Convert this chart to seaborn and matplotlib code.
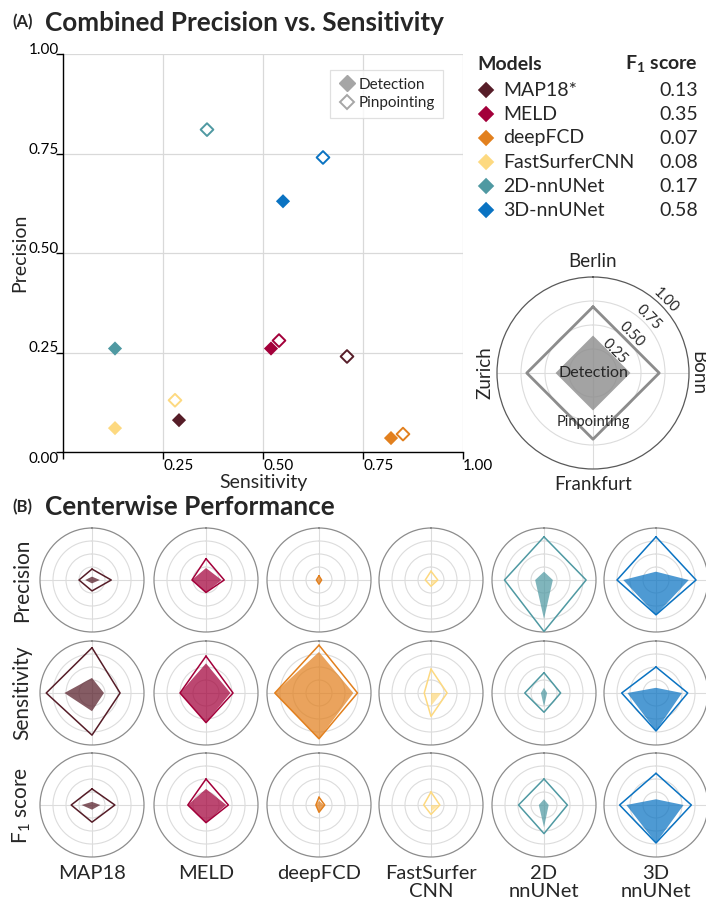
import numpy as np
import pandas as pd
import matplotlib
matplotlib.use('Agg')
import matplotlib.pyplot as plt
from matplotlib.lines import Line2D
import seaborn as sns

# ---- data -------------------------------------------------------------
models = ['MAP18*', 'MELD', 'deepFCD', 'FastSurferCNN', '2D-nnUNet', '3D-nnUNet']
short_names = ['MAP18', 'MELD', 'deepFCD', 'FastSurfer\nCNN', '2D\nnnUNet', '3D\nnnUNet']
colors = ['#561d28', '#a3003a', '#e2801e', '#fdd980', '#4f99a2', '#0a73c2']
f1_scores = ['0.13', '0.35', '0.07', '0.08', '0.17', '0.58']

det_sens = [0.29, 0.52, 0.82, 0.13, 0.13, 0.55]
det_prec = [0.08, 0.26, 0.035, 0.06, 0.26, 0.63]
pin_sens = [0.71, 0.54, 0.85, 0.28, 0.36, 0.65]
pin_prec = [0.24, 0.28, 0.045, 0.13, 0.81, 0.74]

centers = ['Berlin', 'Bonn', 'Frankfurt', 'Zurich']
metrics = ['Precision', 'Sensitivity', 'F$_1$ score']

# per model: [Berlin, Bonn, Frankfurt, Zurich]
prec_det = [[0.065, 0.15, 0.065, 0.13], [0.23, 0.30, 0.24, 0.27], [0.05, 0.04, 0.06, 0.04],
            [0.0, 0.12, 0.09, 0.0], [0.16, 0.17, 0.75, 0.17], [0.16, 0.63, 0.67, 0.63]]
prec_pin = [[0.21, 0.37, 0.21, 0.25], [0.41, 0.35, 0.24, 0.27], [0.08, 0.05, 0.08, 0.05],
            [0.17, 0.13, 0.12, 0.11], [0.83, 0.81, 0.99, 0.76], [0.83, 0.77, 0.67, 0.75]]
sens_det = [[0.29, 0.23, 0.35, 0.53], [0.57, 0.47, 0.57, 0.50], [0.79, 0.66, 0.88, 0.85],
            [0.0, 0.20, 0.25, 0.0], [0.10, 0.06, 0.26, 0.06], [0.10, 0.50, 0.73, 0.55]]
sens_pin = [[0.87, 0.54, 0.81, 0.88], [0.71, 0.52, 0.57, 0.50], [0.92, 0.74, 0.88, 0.85],
            [0.46, 0.31, 0.45, 0.13], [0.39, 0.32, 0.37, 0.37], [0.50, 0.61, 0.73, 0.66]]
f1_det = [[0.06, 0.16, 0.09, 0.20], [0.31, 0.39, 0.34, 0.35], [0.08, 0.10, 0.13, 0.06],
          [0.0, 0.15, 0.13, 0.0], [0.11, 0.09, 0.43, 0.10], [0.11, 0.53, 0.73, 0.57]]
f1_pin = [[0.31, 0.44, 0.33, 0.40], [0.50, 0.43, 0.34, 0.35], [0.15, 0.11, 0.14, 0.06],
          [0.25, 0.17, 0.18, 0.14], [0.50, 0.45, 0.55, 0.49], [0.61, 0.68, 0.73, 0.70]]

legend_det = [0.39, 0.39, 0.39, 0.39]
legend_pin = [0.69, 0.69, 0.69, 0.69]

# ---- style ------------------------------------------------------------
sns.set_style('white')
plt.rcParams['font.family'] = ['Lato', 'DejaVu Sans']
plt.rcParams['mathtext.fontset'] = 'custom'
plt.rcParams['mathtext.rm'] = 'Lato'
plt.rcParams['mathtext.bf'] = 'Lato:bold'

W, H = 706, 902
fig = plt.figure(figsize=(W / 100, H / 100), dpi=100)


def px_box(x0, y0, x1, y1):
    '''pixel box (top-left origin) -> figure fraction rect'''
    return [x0 / W, 1 - y1 / H, (x1 - x0) / W, (y1 - y0) / H]


# ---- (A) scatter ------------------------------------------------------
fig.text(12 / W, 1 - 27 / H, '(A)', fontsize=12, weight='bold', va='baseline')
fig.text(45 / W, 1 - 31 / H, 'Combined Precision vs. Sensitivity', fontsize=18.8, weight='bold', va='baseline')

ax = fig.add_axes(px_box(63, 54, 463, 452))
df_det = pd.DataFrame({'Model': models, 'Sensitivity': det_sens, 'Precision': det_prec})
df_pin = pd.DataFrame({'Model': models, 'Sensitivity': pin_sens, 'Precision': pin_prec})
palette = dict(zip(models, colors))

sns.scatterplot(data=df_det, x='Sensitivity', y='Precision', hue='Model', palette=palette,
                marker='D', s=52, linewidth=0, legend=False, ax=ax, zorder=3)
sns.scatterplot(data=df_pin, x='Sensitivity', y='Precision', hue='Model', palette=palette,
                marker='D', s=42, linewidth=1.4, legend=False, ax=ax, zorder=4)
pin_coll = ax.collections[-1]
pin_coll.set_edgecolors(pin_coll.get_facecolors())
pin_coll.set_facecolors('white')

ax.set_xlim(0, 1)
ax.set_ylim(0, 1)
ticks = [0, 0.25, 0.5, 0.75, 1.0]
ax.set_xticks(ticks)
ax.set_yticks(ticks)
ax.set_xticklabels(['', '0.25', '0.50', '0.75', '1.00'])
ax.set_yticklabels(['0.00', '0.25', '0.50', '0.75', '1.00'])
ax.grid(True, color='#d9d9d9', lw=0.9)
ax.set_axisbelow(True)
for s in ['top', 'right']:
    ax.spines[s].set_visible(False)
for s in ['left', 'bottom']:
    ax.spines[s].set_color('black')
    ax.spines[s].set_linewidth(1.0)
ax.tick_params(axis='both', bottom=True, left=True, length=5, width=1, color='black',
               labelsize=11, labelcolor='black')
ax.tick_params(axis='x', pad=0)
ax.tick_params(axis='y', pad=-2)
for lab in ax.get_xticklabels():
    lab.set_ha('left')
ylabs = ax.get_yticklabels()
for lab in ylabs[1:]:
    lab.set_va('baseline')
ylabs[0].set_va('top')
ax.set_xlabel('Sensitivity', fontsize=14)
ax.set_ylabel('Precision', fontsize=14)
ax.xaxis.set_label_coords(0.5, -0.056)
ax.yaxis.set_label_coords(-0.088, 0.5)

handles = [Line2D([], [], marker='D', ls='', color='#a6a6a6', ms=8, label='Detection'),
           Line2D([], [], marker='D', ls='', mfc='white', mec='#a6a6a6', mew=1.4, ms=7.5, label='Pinpointing')]
leg = ax.legend(handles=handles, loc='upper right', bbox_to_anchor=(0.95, 0.96), fontsize=11,
                frameon=True, fancybox=False, edgecolor='#d9d9d9', handletextpad=0.2,
                borderpad=0.5, labelspacing=0.3, handlelength=1.2, borderaxespad=0)
leg.get_frame().set_linewidth(0.9)

# ---- models / F1 legend -----------------------------------------------
lax = fig.add_axes(px_box(470, 54, 706, 222))
rows = np.arange(len(models))
sns.scatterplot(x=np.full(len(models), 0.068), y=rows, hue=models, palette=palette,
                marker='D', s=70, linewidth=0, legend=False, ax=lax)
lax.set_xlim(0, 1)
lax.set_ylim(5.5, -1.5)
lax.axis('off')
lax.text(0.03, -1.05, 'Models', fontsize=14, weight='bold', va='center', ha='left')
lax.text(0.966, -1.05, r'F$_\mathbf{1}$ score', fontsize=14, weight='bold', va='center', ha='right')
for i, (m, f) in enumerate(zip(models, f1_scores)):
    lax.text(0.14, i, m, fontsize=14, va='center', ha='left')
    lax.text(0.966, i, f, fontsize=14, va='center', ha='right')

# ---- radar helpers ----------------------------------------------------
angles = np.deg2rad([0, 90, 180, 270])
closed = np.append(angles, angles[0])


def style_polar(pax, spine_color='#8c8c8c'):
    pax.set_theta_zero_location('N')
    pax.set_theta_direction(-1)
    pax.set_ylim(0, 1)
    pax.set_rticks([0.25, 0.5, 0.75])
    pax.set_yticklabels([])
    pax.set_xticks(angles)
    pax.set_xticklabels([])
    pax.grid(True, color='#dcdcdc', lw=0.8)
    pax.spines['polar'].set_color(spine_color)
    pax.spines['polar'].set_linewidth(0.9)
    pax.set_facecolor('none')


def draw_radar(pax, det, pin, color, lw=1.1, alpha=0.72):
    pax.fill(closed, list(det) + [det[0]], color=color, alpha=alpha, lw=0, zorder=3)
    pax.plot(closed, list(pin) + [pin[0]], color=color, lw=lw, zorder=4)


# legend radar
rax = fig.add_axes(px_box(593 - 96, 373 - 96, 593 + 96, 373 + 96), projection='polar')
style_polar(rax, spine_color='#595959')
draw_radar(rax, legend_det, legend_pin, '#8c8c8c', lw=2.0, alpha=0.8)
label_kw = dict(fontsize=13.5, ha='center', va='center', clip_on=False)
rax.text(0, 1.16, 'Berlin', **label_kw)
rax.text(np.pi / 2, 1.09, 'Bonn', rotation=-90, **label_kw)
rax.text(np.pi, 1.16, 'Frankfurt', **label_kw)
rax.text(3 * np.pi / 2, 1.12, 'Zurich', rotation=90, **label_kw)
for r in [0.25, 0.5, 0.75, 1.0]:
    rax.text(np.pi / 4, r + 0.07, f'{r:.2f}', rotation=-45, fontsize=10.5,
             ha='center', va='center', clip_on=False, zorder=6)
rax.text(0, 0, 'Detection', fontsize=11.5, ha='center', va='center', zorder=6)
rax.text(np.pi, 0.51, 'Pinpointing', fontsize=10.5, ha='center', va='center', zorder=6)

# ---- (B) centerwise radars --------------------------------------------
fig.text(12 / W, 1 - 512 / H, '(B)', fontsize=12, weight='bold', va='baseline')
fig.text(45 / W, 1 - 515 / H, 'Centerwise Performance', fontsize=18.8, weight='bold', va='baseline')

col_x = [92, 206, 319, 431, 544, 656]
row_y = [580, 693, 805]
rad = 52
metric_data = [(prec_det, prec_pin), (sens_det, sens_pin), (f1_det, f1_pin)]

for r, (det_vals, pin_vals) in enumerate(metric_data):
    cy = row_y[r]
    fig.text(22 / W, 1 - cy / H, metrics[r], fontsize=15, rotation=90, ha='center', va='center')
    for c in range(len(models)):
        cx = col_x[c]
        pax = fig.add_axes(px_box(cx - rad, cy - rad, cx + rad, cy + rad), projection='polar')
        style_polar(pax)
        draw_radar(pax, det_vals[c], pin_vals[c], colors[c])

for c, name in enumerate(short_names):
    fig.text(col_x[c] / W, 1 - 865 / H, name, fontsize=14.5, ha='center', va='top', linespacing=1.05)

fig.savefig('out.png', dpi=100)
